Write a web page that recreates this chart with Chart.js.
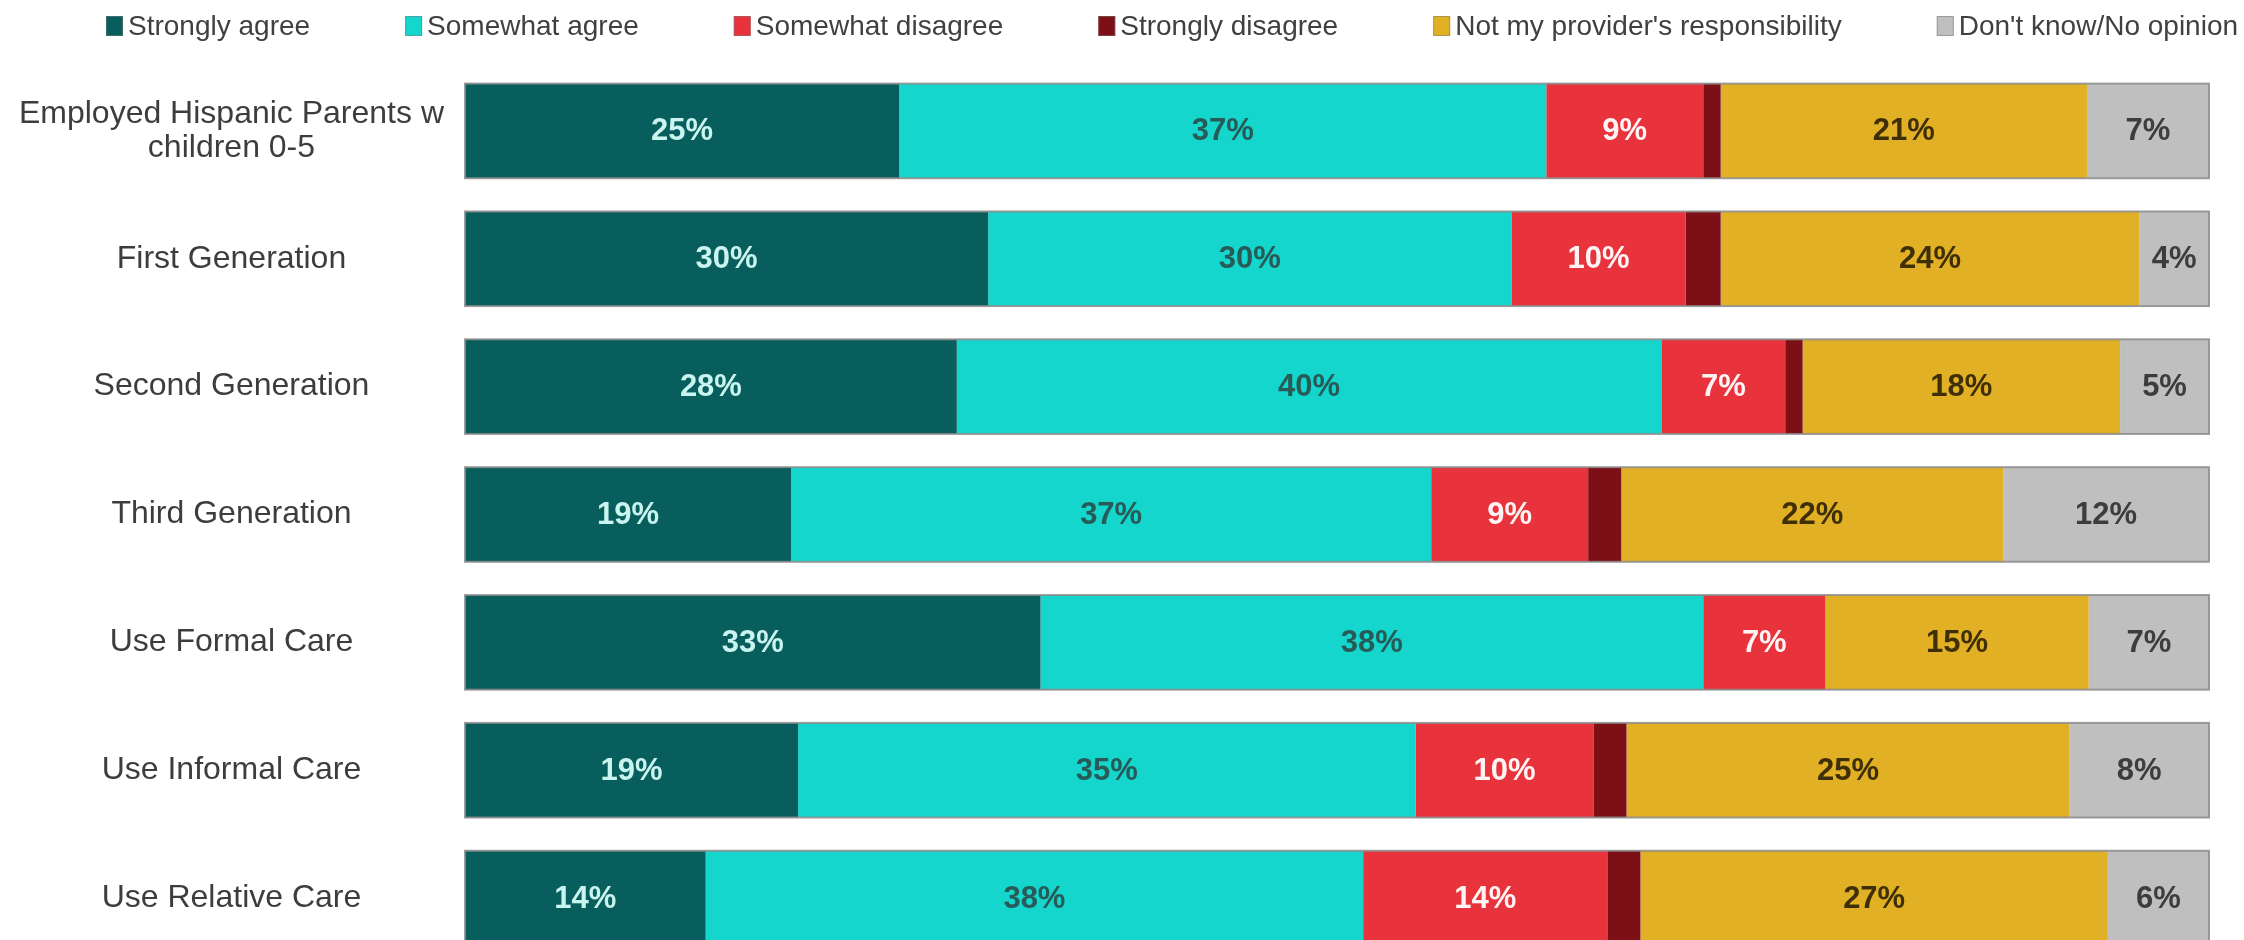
<!DOCTYPE html>
<html>
<head>
<meta charset="utf-8">
<script src="https://cdn.jsdelivr.net/npm/chart.js@4.4.1/dist/chart.umd.min.js"></script>
<style>
  html, body { margin: 0; padding: 0; background: #ffffff; overflow: hidden; }
  #wrap { width: 2244px; height: 940px; overflow: hidden; }
  canvas { display: block; }
</style>
</head>
<body>
<div id="wrap"><canvas id="c" width="2244" height="962"></canvas></div>
<script>
const categories = [
  ['Employed Hispanic Parents w', 'children 0-5'],
  'First Generation',
  'Second Generation',
  'Third Generation',
  'Use Formal Care',
  'Use Informal Care',
  'Use Relative Care'
];
const seriesNames = [
  'Strongly agree',
  'Somewhat agree',
  'Somewhat disagree',
  'Strongly disagree',
  "Not my provider's responsibility",
  "Don't know/No opinion"
];
const stronglyAgree     = [24.9, 30.0, 28.2, 18.7, 33.0, 19.1, 13.8];
const somewhatAgree     = [37.1, 30.0, 40.4, 36.7, 38.0, 35.4, 37.7];
const somewhatDisagree  = [ 9.0, 10.0,  7.1,  9.0,  7.0, 10.2, 14.0];
const stronglyDisagree  = [ 1.0,  2.0,  1.0,  1.9,  0.0,  1.9,  1.9];
const notResponsibility = [21.0, 24.0, 18.2, 21.9, 15.1, 25.4, 26.8];
const dontKnow          = [ 7.0,  4.0,  5.1, 11.8,  6.9,  8.0,  5.8];

const seriesColors = ['#075e5c', '#14d6cc', '#e8323c', '#7c1016', '#e2b024', '#bfbfbf'];
const labelColors  = ['#c9f4ef', '#285a58', '#fff4f4', null, '#3f2f06', '#3d3d3d'];

const allSeries = [stronglyAgree, somewhatAgree, somewhatDisagree, stronglyDisagree, notResponsibility, dontKnow];

const FONT = '"Liberation Sans", Arial, sans-serif';

const valueLabels = {
  id: 'valueLabels',
  afterDatasetsDraw(chart) {
    const ctx = chart.ctx;
    ctx.save();
    ctx.font = 'bold 31px ' + FONT;
    ctx.textAlign = 'center';
    ctx.textBaseline = 'middle';
    chart.data.datasets.forEach((ds, di) => {
      const col = labelColors[di];
      if (!col) return;
      const meta = chart.getDatasetMeta(di);
      meta.data.forEach((el, i) => {
        const v = ds.data[i];
        if (v < 3) return;
        ctx.fillStyle = col;
        ctx.fillText(Math.round(v) + '%', (el.x + el.base) / 2, el.y + 1);
      });
    });
    ctx.restore();
  }
};

const barOutline = {
  id: 'barOutline',
  afterDatasetsDraw(chart) {
    const ctx = chart.ctx;
    const xs = chart.scales.x;
    const meta0 = chart.getDatasetMeta(0);
    ctx.save();
    ctx.strokeStyle = 'rgba(140,140,140,0.85)';
    ctx.lineWidth = 2;
    meta0.data.forEach((el, i) => {
      let total = 0;
      chart.data.datasets.forEach(ds => { total += ds.data[i]; });
      const x0 = xs.getPixelForValue(0);
      const x1 = xs.getPixelForValue(total);
      const h = el.height;
      ctx.strokeRect(x0, el.y - h / 2, x1 - x0, h);
    });
    ctx.restore();
  }
};

const topLegend = {
  id: 'topLegend',
  afterDraw(chart) {
    const ctx = chart.ctx;
    ctx.save();
    ctx.font = '28px ' + FONT;
    ctx.textBaseline = 'middle';
    ctx.textAlign = 'left';
    let x = 106;
    const cy = 26;
    chart.data.datasets.forEach((ds, di) => {
      ctx.fillStyle = ds.backgroundColor;
      ctx.fillRect(x, cy - 10, 17, 20);
      ctx.strokeStyle = 'rgba(120,120,120,0.5)';
      ctx.lineWidth = 1;
      ctx.strokeRect(x + 0.5, cy - 9.5, 16, 19);
      ctx.fillStyle = '#404040';
      const tx = x + 22;
      ctx.fillText(ds.label, tx, cy + 1);
      x = tx + ctx.measureText(ds.label).width + 95;
    });
    ctx.restore();
  }
};

new Chart(document.getElementById('c'), {
  type: 'bar',
  data: {
    labels: categories,
    datasets: seriesNames.map((name, i) => ({
      label: name,
      data: allSeries[i],
      backgroundColor: seriesColors[i],
      borderWidth: 0,
      barPercentage: 0.74,
      categoryPercentage: 1.0
    }))
  },
  options: {
    indexAxis: 'y',
    responsive: false,
    animation: false,
    devicePixelRatio: 1,
    layout: { padding: { top: 67, right: 35, bottom: 0, left: 0 } },
    plugins: {
      legend: { display: false },
      tooltip: { enabled: false },
      title: { display: false }
    },
    scales: {
      x: {
        stacked: true,
        min: 0,
        max: 100,
        display: false
      },
      y: {
        stacked: true,
        grid: { display: false, drawTicks: false },
        border: { display: false },
        afterFit(scale) {
          scale.width = 465;
          scale.paddingTop = 0;
          scale.paddingBottom = 0;
        },
        ticks: {
          crossAlign: 'center',
          padding: 21,
          color: '#3d3d3d',
          font: { family: FONT, size: 32, lineHeight: 1.06 }
        }
      }
    }
  },
  plugins: [barOutline, valueLabels, topLegend]
});
</script>
</body>
</html>
